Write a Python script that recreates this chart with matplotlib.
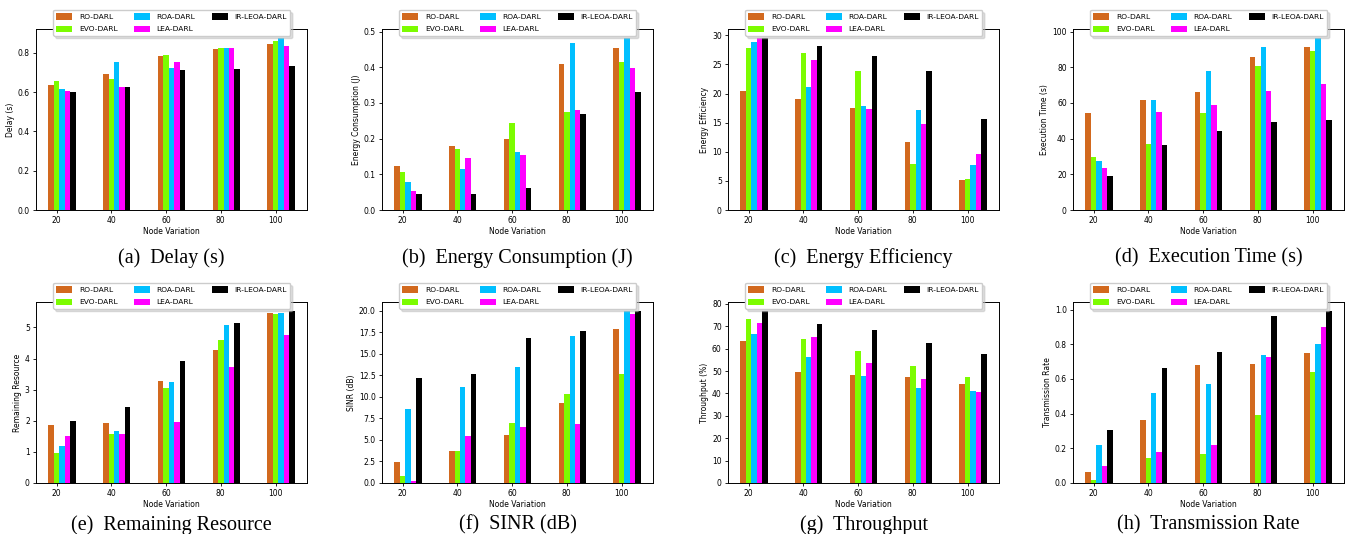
import numpy as np
import matplotlib.pyplot as plt

# Node counts and methods
nodes = ["20", "40", "60", "80", "100"]
methods = ["RO-DARL", "EVO-DARL", "ROA-DARL", "LEA-DARL", "IR-LEOA-DARL"]
colors = ["#D2691E", "#7CFC00", "#00BFFF", "#FF00FF", "#000000"]

# one list per method (rows) for each metric
delay = [
    [0.638, 0.694, 0.786, 0.822, 0.843],
    [0.659, 0.669, 0.791, 0.827, 0.863],
    [0.616, 0.756, 0.725, 0.827, 0.878],
    [0.608, 0.628, 0.756, 0.827, 0.837],
    [0.601, 0.628, 0.715, 0.720, 0.735],
]
energy = [
    [0.124, 0.180, 0.199, 0.410, 0.455],
    [0.107, 0.171, 0.244, 0.275, 0.416],
    [0.079, 0.115, 0.163, 0.469, 0.483],
    [0.053, 0.146, 0.154, 0.281, 0.399],
    [0.045, 0.045, 0.062, 0.270, 0.331],
]
efficiency = [
    [20.5, 19.1, 17.6, 11.7, 5.16],
    [27.9, 26.9, 23.9, 7.92, 5.34],
    [28.9, 21.2, 17.9, 17.2, 7.75],
    [29.6, 25.7, 17.4, 14.8, 9.64],
    [29.6, 28.2, 26.5, 23.8, 15.7],
]
exec_time = [
    [54.5, 61.8, 66.3, 86.0, 91.6],
    [29.8, 37.1, 54.5, 80.9, 89.3],
    [27.5, 61.8, 78.1, 91.6, 96.6],
    [23.6, 55.1, 59.0, 66.9, 70.8],
    [19.1, 36.5, 44.4, 49.4, 50.6],
]
remaining = [
    [1.87, 1.93, 3.28, 4.28, 5.47],
    [0.97, 1.58, 3.06, 4.60, 5.44],
    [1.19, 1.67, 3.25, 5.09, 5.47],
    [1.51, 1.58, 1.96, 3.73, 4.76],
    [2.00, 2.45, 3.93, 5.15, 5.54],
]
sinr = [
    [2.44, 3.71, 5.57, 9.28, 17.87],
    [0.81, 3.71, 6.96, 10.33, 12.65],
    [8.59, 11.14, 13.46, 17.06, 20.0],
    [0.27, 5.45, 6.50, 6.85, 19.61],
    [12.19, 12.65, 16.83, 17.64, 20.0],
]
throughput = [
    [63.6, 49.7, 48.4, 47.5, 44.3],
    [73.4, 64.5, 59.1, 52.4, 47.5],
    [66.7, 56.4, 47.9, 42.5, 41.2],
    [71.6, 65.4, 53.7, 46.6, 40.7],
    [77.0, 71.2, 68.5, 62.7, 57.8],
]
trans_rate = [
    [0.064, 0.364, 0.682, 0.688, 0.751],
    [0.017, 0.145, 0.168, 0.393, 0.642],
    [0.220, 0.520, 0.572, 0.740, 0.803],
    [0.098, 0.179, 0.220, 0.728, 0.902],
    [0.306, 0.665, 0.757, 0.965, 0.994],
]

panels = [
    (delay, "Delay (s)", "(a)  Delay (s)"),
    (energy, "Energy Consumption (J)", "(b)  Energy Consumption (J)"),
    (efficiency, "Energy Efficiency", "(c)  Energy Efficiency"),
    (exec_time, "Execution Time (s)", "(d)  Execution Time (s)"),
    (remaining, "Remaining Resource", "(e)  Remaining Resource"),
    (sinr, "SINR (dB)", "(f)  SINR (dB)"),
    (throughput, "Throughput (%)", "(g)  Throughput"),
    (trans_rate, "Transmission Rate", "(h)  Transmission Rate"),
]

W, H = 1346, 534
fig = plt.figure(figsize=(W / 100, H / 100), dpi=100)

lefts = [36, 382, 728, 1073]
row_tops = [29, 302]
ax_w, ax_h = 271, 181
cap_y = [258, 525]

x = np.arange(len(nodes))
bw = 0.1

for k, (data, ylab, cap) in enumerate(panels):
    r, c = divmod(k, 4)
    l = lefts[c]
    t = row_tops[r]
    ax = fig.add_axes([l / W, 1 - (t + ax_h) / H, ax_w / W, ax_h / H])
    for i, m in enumerate(methods):
        ax.bar(x + (i - 1) * bw, data[i], bw, color=colors[i], label=m)
    ax.set_xticks(x)
    ax.set_xticklabels(nodes)
    ax.tick_params(labelsize=5.5, length=2.5, width=0.6, pad=2)
    ax.set_xlabel("Node Variation", fontsize=5.5, labelpad=1)
    ax.set_ylabel(ylab, fontsize=5.5, labelpad=2)
    for s in ax.spines.values():
        s.set_linewidth(0.7)
    ax.legend(loc="upper center", bbox_to_anchor=(0.5, 1.105), ncol=3,
              fontsize=5.4, handlelength=2.1, handleheight=0.9,
              handletextpad=0.9, columnspacing=2.2, labelspacing=0.75,
              borderpad=0.45, borderaxespad=0, framealpha=1.0,
              edgecolor="#cccccc", shadow={"color": "0.75", "alpha": 0.5})
    fig.text((l + ax_w / 2) / W, 1 - cap_y[r] / H, cap, ha="center", va="center",
             fontsize=14.5, family="Liberation Serif")

fig.savefig("out.png", dpi=100)
